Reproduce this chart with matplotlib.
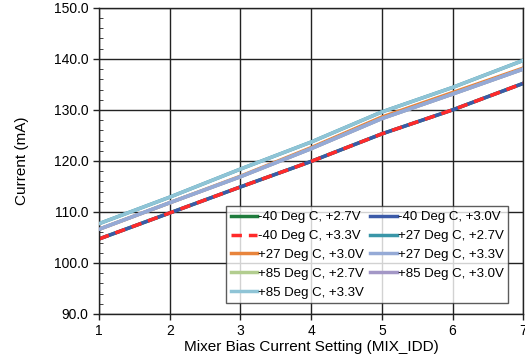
import numpy as np
import matplotlib
matplotlib.use('Agg')
import matplotlib.pyplot as plt
from matplotlib.ticker import MultipleLocator, FormatStrFormatter

plt.rcParams['font.family'] = ['Liberation Sans', 'DejaVu Sans']

mix_idd = [1, 2, 3, 4, 5, 6, 7]
# three visible bundles of curves
low = [104.7, 109.8, 114.9, 119.9, 125.3, 130.0, 135.2]   # -40 C
mid = [106.6, 111.8, 116.9, 122.4, 128.3, 133.1, 138.0]   # +27 / +85 C mid
midor = [106.6, 111.8, 117.0, 122.6, 128.6, 133.4, 138.2]  # +27 C, 3.0V sits a hair above
high = [107.7, 112.9, 118.4, 123.7, 129.6, 134.4, 139.7]  # top bundle

labels = ['-40 Deg C, +2.7V', '-40 Deg C, +3.0V', '-40 Deg C, +3.3V',
          '+27 Deg C, +2.7V', '+27 Deg C, +3.0V', '+27 Deg C, +3.3V',
          '+85 Deg C, +2.7V', '+85 Deg C, +3.0V', '+85 Deg C, +3.3V']
series = [low, low, low, high, midor, mid, mid, mid, high]
colors = ['#1e7b3c', '#3b5aa8', '#ff2a2a', '#3a96a8', '#e8843c',
          '#95aad6', '#b2cd8f', '#a397c6', '#8fc4d6']
styles = ['-', '-', '--', '-', '-', '-', '-', '-', '-']
zorders = [2, 2, 2, 2, 2, 2.6, 2, 2.4, 3]

fig = plt.figure(figsize=(5.25, 3.58), dpi=100)
ax = fig.add_axes([0.1886, 0.123, 0.808, 0.855])

lines = []
for y, c, ls, lab, z in zip(series, colors, styles, labels, zorders):
    ln, = ax.plot(mix_idd, y, color=c, linestyle=ls, linewidth=2.5, label=lab,
                  zorder=z, dashes=(3, 2) if ls == '--' else (None, None))
    lines.append(ln)

ax.set_xlim(1, 7)
ax.set_ylim(90, 150)
ax.xaxis.set_major_locator(MultipleLocator(1))
ax.yaxis.set_major_locator(MultipleLocator(10))
ax.yaxis.set_minor_locator(MultipleLocator(2))
ax.yaxis.set_major_formatter(FormatStrFormatter('%.1f'))
ax.grid(True, which='major', color='#222222', linewidth=1)
ax.set_axisbelow(True)
ax.tick_params(axis='both', which='major', labelsize=10, length=4, width=1,
               color='#222222', direction='out')
ax.tick_params(axis='y', which='minor', length=3, direction='in', color='#222222')
for s in ax.spines.values():
    s.set_color('#222222')
    s.set_linewidth(1)

ax.set_xlabel('Mixer Bias Current Setting (MIX_IDD)', fontsize=11, labelpad=1)
ax.set_ylabel('Current (mA)', fontsize=11, labelpad=18)

# legend is filled row by row in the reference
order = [0, 2, 4, 6, 8, 1, 3, 5, 7]
leg = ax.legend([lines[i] for i in order], [labels[i] for i in order],
                ncol=2, loc='lower right', bbox_to_anchor=(0.965, 0.035),
                fontsize=9.5, frameon=True, fancybox=False, handlelength=2.0,
                handletextpad=0.1, columnspacing=0.45, labelspacing=0.5,
                borderpad=0.35, borderaxespad=0)
leg.get_frame().set_edgecolor('#333333')
leg.get_frame().set_linewidth(1)
leg.set_zorder(5)

fig.savefig('out.png', dpi=100)
